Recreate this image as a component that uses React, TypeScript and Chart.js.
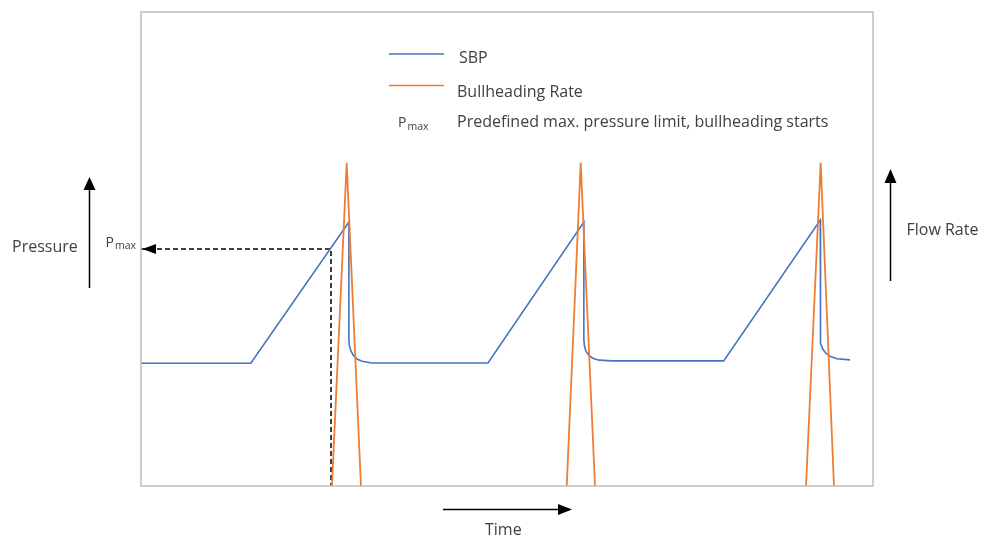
import React, { useEffect, useRef } from "react";
import { Chart, registerables } from "chart.js";

Chart.register(...registerables);

// Time axis: 0..100 (arbitrary units); pressure / flow: 0..100 (arbitrary units)
const sbpTime = [0, 15.0, 28.4, 28.4, 28.45, 28.65, 29.0, 29.5, 30.2, 31.56, 47.4, 60.5, 60.5, 60.58, 60.8, 61.2, 61.8, 62.6, 64.34, 79.6, 92.8, 92.8, 92.86, 93.1, 93.55, 94.2, 95.1, 96.86];
const sbpPressure = [25.9, 25.9, 55.7, 31.2, 29.8, 28.6, 27.6, 26.8, 26.3, 25.95, 25.95, 55.7, 30.8, 29.5, 28.4, 27.5, 26.9, 26.55, 26.4, 26.4, 56.1, 31.4, 30.1, 29.0, 28.0, 27.3, 26.85, 26.6];

const flowTime = [26.09, 28.1, 30.05, 44, 58.16, 60.07, 62.02, 76, 90.85, 92.85, 94.67];
const flowRate = [0, 68.2, 0, null, 0, 68.2, 0, null, 0, 68.2, 0];

const pmaxTime = [0, 25.96, 25.96];
const pmaxLevel = [50, 50, 0];

const seriesNames = ["SBP", "Bullheading Rate"];
const seriesColors = ["#4472C4", "#ED7D31"];
const pmaxNote = "Predefined max. pressure limit, bullheading starts";
const pressureLabel = "Pressure";
const flowLabel = "Flow Rate";
const timeLabel = "Time";

const FONT = "'Open Sans', Lato, sans-serif";
const TEXT = "#404040";

function tri(ctx: CanvasRenderingContext2D, pts: number[][]) {
  ctx.beginPath();
  ctx.moveTo(pts[0][0], pts[0][1]);
  ctx.lineTo(pts[1][0], pts[1][1]);
  ctx.lineTo(pts[2][0], pts[2][1]);
  ctx.closePath();
  ctx.fill();
}

// draw text fitted to a target width (font substitute for Calibri)
function fitText(ctx: CanvasRenderingContext2D, s: string, x: number, y: number, w: number) {
  ctx.font = `14px ${FONT}`;
  const m = ctx.measureText(s).width;
  const size = Math.max(12, Math.min(16, (14 * w) / m));
  ctx.font = `${size.toFixed(2)}px ${FONT}`;
  ctx.fillText(s, x, y);
}

function pmaxText(ctx: CanvasRenderingContext2D, x: number, y: number) {
  ctx.font = `14px ${FONT}`;
  ctx.fillText("P", x, y);
  const w = ctx.measureText("P").width;
  ctx.font = `10.5px ${FONT}`;
  ctx.fillText("max", x + w + 1, y + 2.5);
}

const decoPlugin = {
  id: "deco",
  afterDatasetsDraw(chart: any) {
    const { ctx, chartArea: a, scales } = chart;
    ctx.save();
    // plot frame
    ctx.strokeStyle = "#BFBFBF";
    ctx.lineWidth = 1.5;
    ctx.strokeRect(a.left, a.top, a.right - a.left, a.bottom - a.top);

    // arrowhead of the dashed Pmax line
    ctx.fillStyle = "#000";
    const px = scales.x.getPixelForValue(pmaxTime[0]);
    const py = scales.y.getPixelForValue(pmaxLevel[0]);
    tri(ctx, [[px + 1.5, py], [px + 15, py - 5], [px + 15, py + 5]]);

    // Pmax label left of the frame
    ctx.fillStyle = TEXT;
    ctx.textBaseline = "alphabetic";
    ctx.textAlign = "left";
    pmaxText(ctx, px - 35.5, py - 2.5);

    // Pressure arrow + label
    ctx.strokeStyle = "#000";
    ctx.fillStyle = "#000";
    ctx.lineWidth = 1.5;
    ctx.beginPath();
    ctx.moveTo(89.5, 288);
    ctx.lineTo(89.5, 188);
    ctx.stroke();
    tri(ctx, [[89.5, 177], [83.5, 190], [95.5, 190]]);
    ctx.fillStyle = TEXT;
    fitText(ctx, pressureLabel, 12, 252, 67);

    // Flow rate arrow + label
    ctx.fillStyle = "#000";
    ctx.beginPath();
    ctx.moveTo(890.5, 281);
    ctx.lineTo(890.5, 180);
    ctx.stroke();
    tri(ctx, [[890.5, 169], [884.5, 183], [896.5, 183]]);
    ctx.fillStyle = TEXT;
    fitText(ctx, flowLabel, 906.5, 235, 76);

    // Time arrow + label
    ctx.fillStyle = "#000";
    ctx.beginPath();
    ctx.moveTo(443, 509.5);
    ctx.lineTo(560, 509.5);
    ctx.stroke();
    tri(ctx, [[572, 509.5], [558, 504], [558, 515]]);
    ctx.fillStyle = TEXT;
    fitText(ctx, timeLabel, 485, 535, 38);

    // Legend
    ctx.lineWidth = 1.5;
    ctx.strokeStyle = seriesColors[0];
    ctx.beginPath();
    ctx.moveTo(389, 54);
    ctx.lineTo(444, 54);
    ctx.stroke();
    ctx.strokeStyle = seriesColors[1];
    ctx.beginPath();
    ctx.moveTo(389, 85.5);
    ctx.lineTo(444, 85.5);
    ctx.stroke();
    ctx.fillStyle = TEXT;
    fitText(ctx, seriesNames[0], 459, 62.5, 29);
    fitText(ctx, seriesNames[1], 457, 96.5, 131);
    fitText(ctx, pmaxNote, 457, 127, 391);
    pmaxText(ctx, 398, 127);
    ctx.restore();
  },
};

export default function App() {
  const ref = useRef<HTMLCanvasElement>(null);
  useEffect(() => {
    if (!ref.current) return;
    const chart = new Chart(ref.current, {
      type: "line",
      data: {
        datasets: [
          {
            label: seriesNames[1],
            data: flowTime.map((t, i) => ({ x: t, y: flowRate[i] })),
            borderColor: seriesColors[1],
            borderWidth: 1.8,
            pointRadius: 0,
            tension: 0,
            spanGaps: false,
            yAxisID: "yFlow",
          },
          {
            label: seriesNames[0],
            data: sbpTime.map((t, i) => ({ x: t, y: sbpPressure[i] })),
            borderColor: seriesColors[0],
            borderWidth: 1.6,
            pointRadius: 0,
            tension: 0,
            yAxisID: "y",
          },
          {
            label: "Pmax",
            data: pmaxTime.map((t, i) => ({ x: t, y: pmaxLevel[i] })),
            borderColor: "#000",
            borderWidth: 1.5,
            borderDash: [5, 3],
            pointRadius: 0,
            tension: 0,
            yAxisID: "y",
          },
        ],
      },
      options: {
        animation: false,
        responsive: false,
        layout: { padding: { left: 141, right: 112, top: 12, bottom: 52 } },
        plugins: { legend: { display: false }, tooltip: { enabled: false } },
        scales: {
          x: { type: "linear", min: 0, max: 100, display: false },
          y: { type: "linear", min: 0, max: 100, display: false },
          yFlow: { type: "linear", min: 0, max: 100, display: false, position: "right" },
        },
      },
      plugins: [decoPlugin],
    });
    return () => chart.destroy();
  }, []);
  return (
    <div style={{ position: "absolute", left: 0, top: 0, width: 985, height: 538, background: "#fff" }}>
      <canvas ref={ref} width={985} height={538} style={{ display: "block" }} />
    </div>
  );
}
